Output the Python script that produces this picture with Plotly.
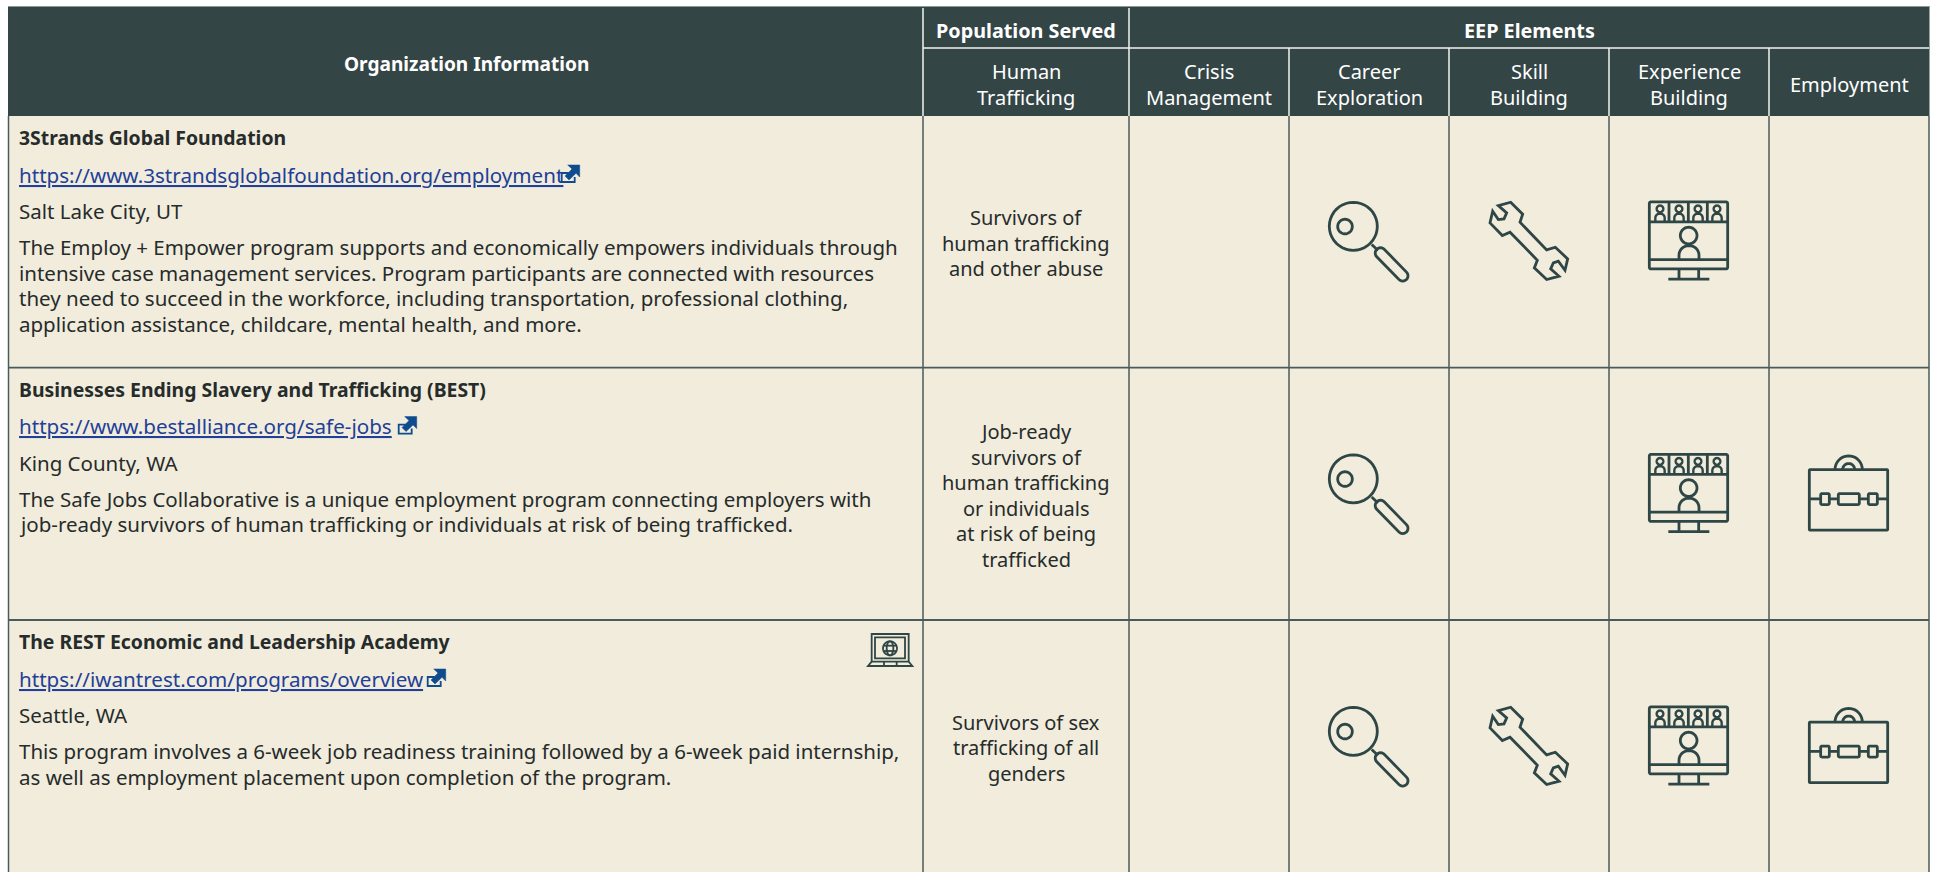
import math
import plotly.graph_objects as go

# ---------- data ----------
group_headers = ["Organization Information", "Population Served", "EEP Elements"]
sub_headers = [["Human", "Trafficking"], ["Crisis", "Management"], ["Career", "Exploration"],
               ["Skill", "Building"], ["Experience", "Building"], ["Employment"]]
organizations = ["3Strands Global Foundation",
                 "Businesses Ending Slavery and Trafficking (BEST)",
                 "The REST Economic and Leadership Academy"]
urls = ["https://www.3strandsglobalfoundation.org/employment",
        "https://www.bestalliance.org/safe-jobs",
        "https://iwantrest.com/programs/overview"]
locations = ["Salt Lake City, UT", "King County, WA", "Seattle, WA"]
descriptions = [
    ["The Employ + Empower program supports and economically empowers individuals through",
     "intensive case management services. Program participants are connected with resources",
     "they need to succeed in the workforce, including transportation, professional clothing,",
     "application assistance, childcare, mental health, and more."],
    ["The Safe Jobs Collaborative is a unique employment program connecting employers with",
     "job-ready survivors of human trafficking or individuals at risk of being trafficked."],
    ["This program involves a 6-week job readiness training followed by a 6-week paid internship,",
     "as well as employment placement upon completion of the program."],
]
populations = [["Survivors of", "human trafficking", "and other abuse"],
               ["Job-ready", "survivors of", "human trafficking", "or individuals", "at risk of being", "trafficked"],
               ["Survivors of sex", "trafficking of all", "genders"]]
crisis_management = [0, 0, 0]
career_exploration = [1, 1, 1]
skill_building = [1, 0, 1]
experience_building = [1, 1, 1]
employment = [0, 1, 1]
virtual_program = [0, 0, 1]

# ---------- layout ----------
W, H = 1933, 872
DARK, CREAM, INK, LINK, EXT = "#344546", "#f1ecdb", "#262b2b", "#1f3f99", "#0e4b8f"
ICON = "#2f4647"
FONT = "Noto Sans"
col_x = [8, 923, 1129, 1289, 1449, 1609, 1769, 1929]
row_y = [116, 367.6, 620, 872.5]
icon_y = [241.8, 494.3, 746.8]
link_end = [580, 417, 446]

shapes, notes = [], []


def rect(x0, y0, x1, y1, fill, lc=None, lw=0):
    shapes.append(dict(type="rect", x0=x0, y0=y0, x1=x1, y1=y1, fillcolor=fill,
                       line=dict(color=lc or fill, width=lw), layer="below"))


def seg(x0, y0, x1, y1, c, w):
    shapes.append(dict(type="line", x0=x0, y0=y0, x1=x1, y1=y1, line=dict(color=c, width=w)))


def text(x, y, s, size, color=INK, anchor="center", bold=False):
    notes.append(dict(x=x, y=y, text=s, showarrow=False, xanchor=anchor, yanchor="middle",
                      align=anchor, borderpad=0,
                      font=dict(family=FONT, size=size, color=color, weight=700 if bold else 400)))


def stroke(points, close=False, w=2.8, c=ICON, fill=None):
    p = "M" + " L".join(f"{x:.2f},{y:.2f}" for x, y in points) + (" Z" if close else "")
    shapes.append(dict(type="path", path=p, line=dict(color=c, width=w),
                       fillcolor=fill or "rgba(0,0,0,0)"))


def arc(cx, cy, rx, ry, a0=0, a1=360, n=40):
    return [(cx + rx * math.cos(math.radians(a0 + (a1 - a0) * i / n)),
             cy + ry * math.sin(math.radians(a0 + (a1 - a0) * i / n))) for i in range(n + 1)]


def rrect(x0, y0, x1, y1, r):
    return (arc(x0 + r, y0 + r, r, r, 180, 270, 6) + arc(x1 - r, y0 + r, r, r, 270, 360, 6) +
            arc(x1 - r, y1 - r, r, r, 0, 90, 6) + arc(x0 + r, y1 - r, r, r, 90, 180, 6))


def magnifier(cx, cy):
    stroke(arc(cx - 15.7, cy - 15.5, 24, 24), True)
    stroke(arc(cx - 24, cy - 15.25, 7.3, 7.3), True)
    stroke([(cx + 2.7, cy + 2.75), (cx + 9, cy + 8.75)])
    a = (cx + 11.5, cy + 11.25)
    b = (cx + 33.7, cy + 34)
    stroke(arc(a[0], a[1], 5.3, 5.3, 135, 315, 12) + arc(b[0], b[1], 5.3, 5.3, -45, 135, 12), True)


WRENCH = [(578, 95), (570, 130), (607, 168), (630, 158), (712, 242), (703, 265), (740, 300), (777, 290),
          (752, 268), (760, 250), (775, 245), (795, 272), (803, 238), (766, 203), (740, 211), (660, 128),
          (668, 104), (632, 68), (595, 78), (620, 100), (612, 118), (595, 120)]


def wrench(cx, cy):
    stroke([(cx + x / 3 - 229, cy + y / 3 - 62.25) for x, y in WRENCH], True)


def monitor(cx, cy):
    m = lambda x, y: (cx + x / 3 - 59, cy + y / 3 - 52.25)
    stroke([m(x, y) for x, y in rrect(58, 37, 293, 238, 5)], True)
    stroke([m(58, 97), m(293, 97)])
    stroke([m(58, 210), m(293, 210)])
    for x in (117, 175, 232):
        stroke([m(x, 37), m(x, 97)])
    for x in (90, 147, 204, 261):
        stroke([m(*p) for p in arc(x, 58, 10, 10)], True, 2.4)
        stroke([m(x - 14, 97)] + [m(*p) for p in arc(x, 85, 14, 13, 180, 360, 12)] + [m(x + 14, 97)], False, 2.4)
    stroke([m(*p) for p in arc(176, 138, 25, 25)], True)
    stroke([m(147, 210)] + [m(*p) for p in arc(177, 197, 30, 29, 180, 360, 16)] + [m(207, 210)])
    stroke([m(147, 238), m(147, 268)])
    stroke([m(206, 238), m(206, 268)])
    stroke([m(115, 269), m(238, 269)])


def briefcase(cx, cy):
    m = lambda x, y: (cx + x / 3 - 59, cy + y / 3 - 49.75)
    stroke([m(x, y) for x, y in rrect(58, 75, 293, 257, 3)], True)
    stroke([m(*p) for p in arc(176, 75, 41, 41, 180, 360, 20)])
    stroke([m(*p) for p in arc(176, 75, 18, 18, 180, 360, 14)])
    for a, b in ((58, 92), (118, 145), (208, 235), (262, 293)):
        stroke([m(a, 163), m(b, 163)])
    for a, b in ((92, 118), (145, 208), (235, 262)):
        stroke([m(x, y) for x, y in rrect(a, 147, b, 180, 4)], True)


def laptop(x0, y0):
    m = lambda x, y: (x0 + x / 3, y0 + y / 3)
    w = 1.8
    stroke([m(35, 125), m(35, 42), m(146, 42), m(146, 125)], False, w)
    stroke([m(45, 115), m(45, 52), m(135, 52), m(135, 115)], True, w)
    stroke([m(35, 125), m(24, 138), m(157, 138), m(146, 125)], True, w)
    for x in (72, 110):
        stroke([m(x, 125), m(x, 138)], False, w)
    stroke([m(*p) for p in arc(90, 85, 21, 21)], True, w)
    stroke([m(*p) for p in arc(90, 85, 10, 21)], True, w)
    stroke([m(70, 77), m(110, 77)], False, w)
    stroke([m(70, 93), m(110, 93)], False, w)


def ext_link(xe, y0):
    x = xe - 18.3
    stroke([(x + 7, y0 + 8), (x, y0 + 8), (x, y0 + 17), (x + 13, y0 + 17), (x + 13, y0 + 12)], False, 1.8, EXT)
    stroke([(x + 6, y0), (x + 18, y0), (x + 18, y0 + 12), (x + 14.3, y0 + 8.3), (x + 7.3, y0 + 15),
            (x + 3.3, y0 + 11), (x + 10.3, y0 + 4)], True, 0.5, EXT, EXT)


# ---------- table frame ----------
rect(8, 6, 1929.5, 116, DARK)
rect(8, 116, 1929, H + 5, CREAM)
seg(8, 6.5, 1929.5, 6.5, "#8c9898", 1)
seg(8.5, 116, 8.5, H, "#4a5b5c", 1.5)
seg(1929, 116, 1929, H, "#4a5b5c", 1.5)
for y in row_y[1:3]:
    seg(8, y, 1929, y, "#4a5b5c", 1.8)
for i, x in enumerate(col_x[1:-1]):
    seg(x, 116, x, H, "#4a5b5c", 1.5)
    seg(x, 8 if i < 2 else 48, x, 116, "#f4f4f0", 1.5)
seg(923, 48, 1929, 48, "#f4f4f0", 1.5)

# ---------- header text ----------
text(466, 63.5, group_headers[0], 19.1, "white", bold=True)
text(1026, 30, group_headers[1], 19.8, "white", bold=True)
text(1529, 30, group_headers[2], 19.8, "white", bold=True)
for c, lines in enumerate(sub_headers):
    cx = (col_x[c + 1] + col_x[c + 2]) / 2
    if len(lines) == 1:
        text(cx, 84.5, lines[0], 20, "white")
    else:
        text(cx, 71.5, lines[0], 20, "white")
        text(cx, 97, lines[1], 20, "white")

# ---------- rows ----------
for r in range(3):
    top = row_y[r]
    text(18, top + 21.5, organizations[r], 19.4, INK, "left", bold=True)
    text(18, top + 58.5, f'<a href="{urls[r]}" style="color:{LINK}"><u>{urls[r]}</u></a>', 20.6, LINK, "left")
    text(18, top + 95, locations[r], 20.5, INK, "left")
    for i, line in enumerate(descriptions[r]):
        text(18, top + 131 + i * 25.6, line, 20.5, INK, "left")
    ext_link(link_end[r], top + 49)
    pop = populations[r]
    mid = (row_y[r] + row_y[r + 1]) / 2 + 1.5
    for i, line in enumerate(pop):
        text(1026, mid + (i - (len(pop) - 1) / 2) * 25.5, line, 20, INK)
    cy = icon_y[r]
    if career_exploration[r]:
        magnifier(1369, cy)
    if skill_building[r]:
        wrench(1529, cy)
    if experience_building[r]:
        monitor(1689, cy)
    if employment[r]:
        briefcase(1849, cy)
    if virtual_program[r]:
        laptop(860, 620)

fig = go.Figure()
fig.update_layout(
    width=W, height=H, margin=dict(l=0, r=0, t=0, b=0), paper_bgcolor="white", plot_bgcolor="white",
    xaxis=dict(range=[0, W], visible=False, fixedrange=True),
    yaxis=dict(range=[H, 0], visible=False, fixedrange=True),
    shapes=shapes, annotations=notes, showlegend=False,
)
fig.write_html("out.html", config={"displayModeBar": False},
               post_script="document.body.style.margin='0';document.body.style.overflow='hidden';")
